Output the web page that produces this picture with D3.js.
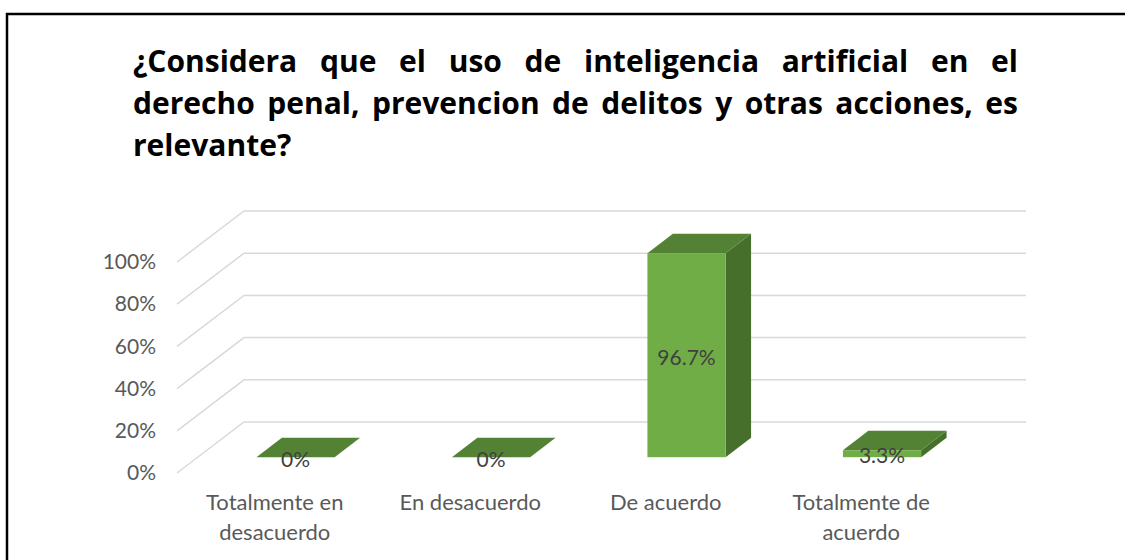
<!DOCTYPE html>
<html>
<head>
<meta charset="utf-8">
<script src="https://cdn.jsdelivr.net/npm/d3@7"></script>
<style>
  html, body { margin: 0; padding: 0; background: #fff; }
  svg { display: block; }
</style>
</head>
<body>
<div id="chart"></div>
<script>
// Data
const titleLines = [
  '¿Considera que el uso de inteligencia artificial en el',
  'derecho penal, prevencion de delitos y otras acciones, es',
  'relevante?'
];
const categories = ['Totalmente en desacuerdo', 'En desacuerdo', 'De acuerdo', 'Totalmente de acuerdo'];
const values = [0, 0, 0.967, 0.033];
const valueLabels = ['0%', '0%', '96.7%', '3.3%'];
const yTicks = [0, 0.2, 0.4, 0.6, 0.8, 1];

const W = 1125, H = 560;
const font = 'Lato, "Open Sans", sans-serif';
const titleFont = '"Open Sans", Lato, sans-serif';

// 3D box geometry
const front = { left: 177, right: 959, bottom: 473, top: 262 };
const depth = { dx: 67, dy: 51 };     // offset from front plane to back wall
const barDepth = [0.31, 0.69];         // bar sits in the middle of the depth
const barFrac = 0.4;                   // bar width share of band

const svg = d3.select('#chart').append('svg')
  .attr('width', W).attr('height', H);

svg.append('rect').attr('width', W).attr('height', H).attr('fill', '#fff');

// frame (only top + left visible)
svg.append('rect')
  .attr('x', 7).attr('y', 14)
  .attr('width', W + 20).attr('height', H + 20)
  .attr('fill', 'none').attr('stroke', '#000').attr('stroke-width', 2.5);

// Title, justified
const titleX = 133, titleW = 885;
const title = svg.append('g');
titleLines.forEach((line, i) => {
  const t = title.append('text')
    .attr('x', titleX)
    .attr('y', 72 + i * 42)
    .attr('font-family', titleFont)
    .attr('font-weight', 700)
    .attr('font-size', 30)
    .attr('fill', '#000')
    .text(line);
  if (i === titleLines.length - 1) return;
  const w = t.node().getComputedTextLength();
  const gaps = line.split(' ').length - 1;
  if (w <= titleW) {
    t.attr('word-spacing', (titleW - w) / gaps);
  } else {
    t.attr('textLength', titleW).attr('lengthAdjust', 'spacingAndGlyphs');
  }
});

// Scales
const x = d3.scaleBand().domain(categories).range([front.left, front.right]);
const y = d3.scaleLinear().domain([0, 1]).range([front.bottom, front.top]);

// Gridlines: left wall diagonal + back wall horizontal
const line = d3.line();
const grid = svg.append('g');
yTicks.forEach(t => {
  const yf = y(t);
  grid.append('path')
    .attr('d', line([
      [front.left, yf],
      [front.left + depth.dx, yf - depth.dy],
      [front.right + depth.dx, yf - depth.dy]
    ]))
    .attr('fill', 'none')
    .attr('stroke', '#d9d9d9')
    .attr('stroke-width', 1.5);
});

// Y axis labels
const yAxis = svg.append('g')
  .attr('transform', `translate(${front.left},0)`)
  .call(d3.axisLeft(y).tickValues(yTicks).tickFormat(d3.format('.0%')).tickSize(0).tickPadding(21));
yAxis.select('.domain').remove();
yAxis.selectAll('text')
  .attr('font-family', font)
  .attr('font-size', 21)
  .attr('fill', '#595959');

// Bars
const colFront = '#70ad47', colTop = '#548235', colSide = '#466f2b';
const bars = svg.append('g');
categories.forEach((c, i) => {
  const bw = x.bandwidth() * barFrac;
  const ox = barDepth[0] * depth.dx, oy = barDepth[0] * depth.dy;
  const ddx = (barDepth[1] - barDepth[0]) * depth.dx;
  const ddy = (barDepth[1] - barDepth[0]) * depth.dy;
  const x0 = x(c) + x.bandwidth() * (1 - barFrac) / 2 + ox;
  const x1 = x0 + bw;
  const yb = y(0) - oy;
  const yt = y(values[i]) - oy;
  const g = bars.append('g');
  // side
  g.append('path')
    .attr('d', line([[x1, yb], [x1 + ddx, yb - ddy], [x1 + ddx, yt - ddy], [x1, yt]]) + 'Z')
    .attr('fill', colSide);
  // top
  g.append('path')
    .attr('d', line([[x0, yt], [x0 + ddx, yt - ddy], [x1 + ddx, yt - ddy], [x1, yt]]) + 'Z')
    .attr('fill', colTop);
  // front
  g.append('rect')
    .attr('x', x0).attr('y', yt)
    .attr('width', bw).attr('height', Math.max(0, yb - yt))
    .attr('fill', colFront);
  // value label
  g.append('text')
    .attr('x', (x0 + x1) / 2)
    .attr('y', (yb + yt) / 2 + 2)
    .attr('dy', '0.35em')
    .attr('text-anchor', 'middle')
    .attr('font-family', font)
    .attr('font-size', 21)
    .attr('fill', '#404040')
    .text(valueLabels[i]);
});

// X category labels (wrapped)
function wrap(str, maxW, size) {
  const probe = svg.append('text').attr('font-family', font).attr('font-size', size);
  const words = str.split(' ');
  const lines = [];
  let cur = '';
  words.forEach(w => {
    const test = cur ? cur + ' ' + w : w;
    probe.text(test);
    if (probe.node().getComputedTextLength() > maxW && cur) {
      lines.push(cur);
      cur = w;
    } else {
      cur = test;
    }
  });
  lines.push(cur);
  probe.remove();
  return lines;
}

const xl = svg.append('g');
categories.forEach(c => {
  const lines = wrap(c, 175, 22);
  const t = xl.append('text')
    .attr('x', x(c) + x.bandwidth() / 2)
    .attr('y', 510)
    .attr('text-anchor', 'middle')
    .attr('font-family', font)
    .attr('font-size', 22)
    .attr('fill', '#595959');
  lines.forEach((l, k) => {
    t.append('tspan')
      .attr('x', x(c) + x.bandwidth() / 2)
      .attr('y', 510 + k * 30)
      .text(l);
  });
});
</script>
</body>
</html>
